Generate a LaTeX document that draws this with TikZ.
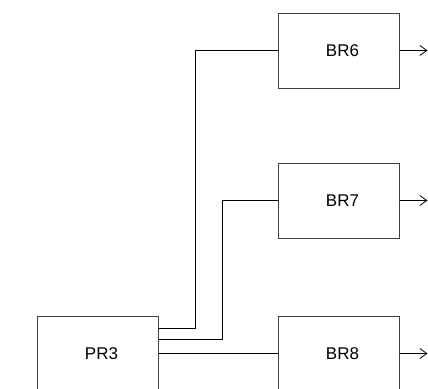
\documentclass[tikz,border=0pt]{standalone}
\usepackage{fontspec}
\setmainfont{Liberation Sans}
\usetikzlibrary{arrows.meta}
\begin{document}
\begin{tikzpicture}[x=1pt,y=-1pt,
  block/.style={draw=black!75,line width=1pt,minimum width=121pt,minimum height=75pt,
    inner sep=0pt,font=\fontsize{17}{20}\selectfont,text height=12pt,text depth=0pt},
  wire/.style={draw=black,line width=1pt},
  outarrow/.style={wire,-{Straight Barb[length=7pt,width=10pt,line width=0.8pt]}}]
\useasboundingbox (0,0) rectangle (428,388);
\clip (0,0) rectangle (428,388);
% blocks
\node[block] (BR6) at (338.5,50.5) {\hspace{8pt}BR6};
\node[block] (BR7) at (338.5,200.5) {\hspace{8pt}BR7};
\node[block] (BR8) at (338.5,353.5) {\hspace{8pt}BR8};
\node[block] (PR3) at (97.5,353.5) {\hspace{8pt}PR3};
% bends of the routed wires
\coordinate (k6) at (195,50.5);
\coordinate (k7) at (222,200.5);
% wires from PR3 to the branches
\draw[wire] ([yshift=25.5pt]PR3.east) -| (k6) -- (BR6.west);
\draw[wire] ([yshift=14.5pt]PR3.east) -| (k7) -- (BR7.west);
\draw[wire] (PR3.east) -- (BR8.west);
% outputs
\coordinate (o6) at (427.5,50.5);
\coordinate (o7) at (427.5,200.5);
\coordinate (o8) at (427.5,353.5);
\draw[outarrow] (BR6.east) -- (o6);
\draw[outarrow] (BR7.east) -- (o7);
\draw[outarrow] (BR8.east) -- (o8);
\end{tikzpicture}
\end{document}
